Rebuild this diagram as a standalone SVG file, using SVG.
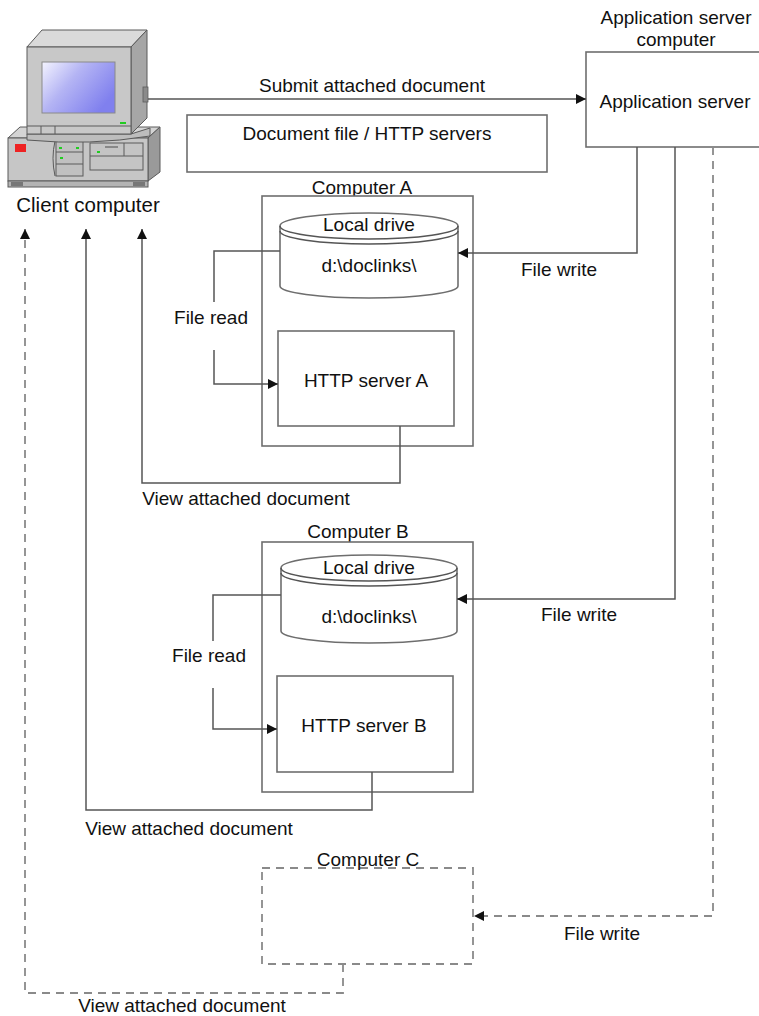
<svg xmlns="http://www.w3.org/2000/svg" width="759" height="1016" viewBox="0 0 759 1016">
  <style>
    text { font-family: "Liberation Sans", Arial, sans-serif; font-size: 19px; fill: #111; }
    .mid { text-anchor: middle; }
    .box { fill: #fff; stroke: #6e6e6e; stroke-width: 1.6; }
    .dbox { fill: none; stroke: #8a8a8a; stroke-width: 1.8; stroke-dasharray: 8 6; }
    .line { fill: none; stroke: #555; stroke-width: 1.5; }
    .dline { fill: none; stroke: #8a8a8a; stroke-width: 1.8; stroke-dasharray: 8 6; }
    .pc { stroke: #5a5a5a; stroke-width: 1; }
  </style>
  <defs>
    <marker id="arrow" viewBox="0 0 10 10" refX="10" refY="5" markerWidth="10" markerHeight="10" markerUnits="userSpaceOnUse" orient="auto">
      <path d="M0,0 L10,5 L0,10 z" fill="#111"/>
    </marker>
    <linearGradient id="screen" x1="0" y1="0" x2="1" y2="0.6">
      <stop offset="0" stop-color="#f4f4ff"/>
      <stop offset="0.45" stop-color="#b4b4f4"/>
      <stop offset="1" stop-color="#8080ee"/>
    </linearGradient>
  </defs>

  <!-- Client computer -->
  <g id="client">
    <!-- desktop case -->
    <polygon class="pc" points="8,138 20,127 160,127 148,138" fill="#d4d4d4"/>
    <polygon class="pc" points="148,138 160,127 160,172 148,181" fill="#9a9a9a"/>
    <rect class="pc" x="8" y="138" width="140" height="43" fill="#c6c6c6"/>
    <rect class="pc" x="8" y="181" width="140" height="6" fill="#b4b4b4"/>
    <rect x="11" y="182" width="12" height="4" fill="#777"/>
    <rect x="133" y="182" width="12" height="4" fill="#777"/>
    <rect x="15" y="144" width="11" height="8" fill="#e22"/>
    <path class="pc" d="M55,141 Q51,158 55,176" fill="none"/>
    <rect class="pc" x="56" y="141" width="27" height="35" fill="#c0c0c0"/>
    <line class="pc" x1="56" y1="152" x2="83" y2="152"/>
    <line class="pc" x1="56" y1="164" x2="83" y2="164"/>
    <rect x="59" y="147" width="3" height="2" fill="#2c2"/>
    <rect x="76" y="147" width="3" height="2" fill="#2c2"/>
    <rect x="60" y="157" width="3" height="2" fill="#2c2"/>
    <rect class="pc" x="90" y="143" width="53" height="27" fill="#c4c4c4"/>
    <line class="pc" x1="90" y1="156" x2="143" y2="156"/>
    <line class="pc" x1="124" y1="143" x2="124" y2="156"/>
    <line x1="105" y1="147" x2="118" y2="147" stroke="#888" stroke-width="2"/>
    <rect x="97" y="151" width="3" height="2" fill="#2c2"/>
    <!-- monitor stand -->
    <path class="pc" d="M27,134 L131,134 L150,128 L150,136 Q90,146 27,140 z" fill="#bdbdbd"/>
    <!-- monitor -->
    <polygon class="pc" points="27,47 42,30 147,30 131,47" fill="#dadada"/>
    <polygon class="pc" points="131,47 147,30 147,118 131,134" fill="#a6a6a6"/>
    <rect x="143" y="87" width="5" height="15" fill="#8a8a8a" stroke="#5a5a5a" stroke-width="0.8"/>
    <rect class="pc" x="27" y="47" width="104" height="87" fill="#c8c8c8"/>
    <rect x="42" y="62" width="73" height="51" fill="url(#screen)" stroke="#8a8a8a" stroke-width="1"/>
    <line class="pc" x1="27" y1="126" x2="131" y2="126"/>
    <line class="pc" x1="41" y1="126" x2="41" y2="134"/>
    <line class="pc" x1="55" y1="126" x2="55" y2="134"/>
    <rect x="120" y="122" width="6" height="2" fill="#2c2"/>
    <text class="mid" x="88" y="212" style="font-size:20.5px">Client computer</text>
  </g>

  <!-- Application server computer -->
  <g id="appserver">
    <text class="mid" x="676" y="24">Application server</text>
    <text class="mid" x="676" y="46">computer</text>
    <rect class="box" x="586" y="52" width="180" height="95"/>
    <text class="mid" x="675" y="108">Application server</text>
  </g>

  <!-- Document file / HTTP servers -->
  <g id="docservers">
    <rect class="box" x="187" y="115" width="360" height="57"/>
    <text class="mid" x="367" y="140">Document file / HTTP servers</text>
  </g>

  <!-- Computer A -->
  <g id="computerA">
    <text class="mid" x="362" y="194">Computer A</text>
    <rect class="box" x="262" y="196" width="211" height="250"/>
    <path class="box" d="M280,226 A89,13 0 0 1 458,226 L458,286 A89,12 0 0 1 280,286 z"/>
    <path class="line" d="M280,226 A89,13 0 0 0 458,226"/>
    <path class="line" d="M280,231 A89,13 0 0 0 458,231"/>
    <text class="mid" x="369" y="231">Local drive</text>
    <text class="mid" x="369" y="272">d:\doclinks\</text>
    <rect class="box" x="278" y="331" width="176" height="95"/>
    <text class="mid" x="366" y="387">HTTP server A</text>
  </g>

  <!-- Computer B -->
  <g id="computerB">
    <text class="mid" x="358" y="538">Computer B</text>
    <rect class="box" x="262" y="542" width="211" height="250"/>
    <path class="box" d="M281,568 A88,13 0 0 1 457,568 L457,631 A88,12 0 0 1 281,631 z"/>
    <path class="line" d="M281,568 A88,13 0 0 0 457,568"/>
    <path class="line" d="M281,573 A88,13 0 0 0 457,573"/>
    <text class="mid" x="369" y="574">Local drive</text>
    <text class="mid" x="369" y="623">d:\doclinks\</text>
    <rect class="box" x="277" y="676" width="176" height="96"/>
    <text class="mid" x="364" y="732">HTTP server B</text>
  </g>

  <!-- Computer C -->
  <g id="computerC">
    <rect class="dbox" x="262" y="868" width="211" height="96"/>
    <text class="mid" x="368" y="866">Computer C</text>
  </g>

  <!-- Connectors -->
  <g id="connectors">
    <path class="line" d="M148,99 H586" marker-end="url(#arrow)"/>
    <path class="line" d="M637,147 V253 H458" marker-end="url(#arrow)"/>
    <path class="line" d="M675,147 V599 H457" marker-end="url(#arrow)"/>
    <path class="dline" d="M713,147 V916 H474" marker-end="url(#arrow)"/>
    <path class="line" d="M280,251 H214 V302"/>
    <path class="line" d="M214,350 V384 H278" marker-end="url(#arrow)"/>
    <path class="line" d="M281,595 H213 V641"/>
    <path class="line" d="M213,688 V729 H277" marker-end="url(#arrow)"/>
    <path class="line" d="M400,426 V483 H142 V229" marker-end="url(#arrow)"/>
    <path class="line" d="M372,772 V810 H86 V229" marker-end="url(#arrow)"/>
    <path class="dline" d="M343,964 V993 H25 V229" marker-end="url(#arrow)"/>
  </g>

  <!-- Connector labels -->
  <g id="labels">
    <text class="mid" x="372" y="92">Submit attached document</text>
    <text class="mid" x="559" y="276">File write</text>
    <text class="mid" x="579" y="621">File write</text>
    <text class="mid" x="602" y="940">File write</text>
    <text class="mid" x="211" y="324">File read</text>
    <text class="mid" x="209" y="662">File read</text>
    <text class="mid" x="246" y="505">View attached document</text>
    <text class="mid" x="189" y="835">View attached document</text>
    <text class="mid" x="182" y="1012">View attached document</text>
  </g>
</svg>
